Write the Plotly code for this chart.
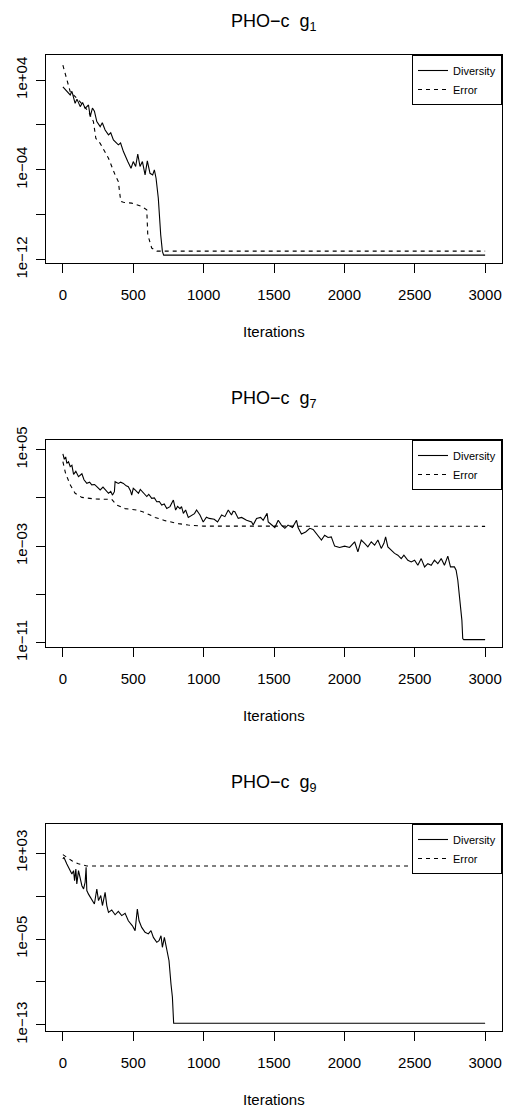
import plotly.graph_objects as go

# ---------------- data ----------------
x_ticks = [0, 500, 1000, 1500, 2000, 2500, 3000]

# panel g1
g1_div_iter = [0, 28, 52, 64, 87, 100, 123, 140, 158, 182, 194, 210, 224, 241, 265, 280, 300,
               324, 340, 359, 394, 410, 430, 461, 484, 500, 517, 532, 548, 565, 584, 600, 619,
               638, 650, 662, 678, 695, 707, 716, 3000]
g1_div = [2.5e3, 9.1e2, 4.7e2, 1.0e3, 8.5e1, 2.0e2, 4.3e1, 1.0e2, 3.0e1, 6.0e1, 5.5e0, 3.2e1,
          1.7e1, 2.0e0, 7.1e-1, 1.6e0, 3.6e-1, 1.3e-1, 2.0e-1, 4.7e-2, 1.7e-2, 2.5e-2, 4.3e-3,
          5.5e-4, 1.4e-4, 5.5e-4, 2.0e-4, 2.6e-3, 2.0e-4, 5.5e-4, 3.6e-5, 6.3e-4, 5.0e-5,
          3.6e-5, 1.0e-4, 1.8e-5, 3.0e-7, 1.7e-10, 5.5e-12, 2.6e-12, 2.6e-12]
g1_err_iter = [0, 28, 52, 111, 182, 217, 234, 265, 324, 371, 394, 411, 430, 489, 560, 596,
               603, 631, 667, 3000]
g1_err = [2.1e5, 1.4e4, 9.1e2, 1.7e2, 1.6e1, 2.0e0, 6.5e-2, 2.3e-2, 1.1e-3, 3.6e-5, 9.1e-6,
          1.6e-7, 1.3e-7, 1.1e-7, 5.5e-8, 2.8e-8, 1.7e-10, 1.1e-11, 5.9e-12, 5.9e-12]

# panel g7
g7_div_iter = [0, 10, 20, 28, 40, 52, 64, 76, 92, 111, 135, 150, 170, 190, 205, 225, 241, 265,
               285, 300, 324, 340, 352, 366, 371, 394, 410, 430, 450, 465, 480, 489, 500, 513,
               537, 550, 565, 580, 596, 610, 631, 650, 667, 685, 702, 720, 738, 761, 785, 801,
               815, 832, 843, 856, 872, 891, 914, 935, 950, 974, 997, 1020, 1040, 1075, 1099,
               1128, 1151, 1175, 1198, 1210, 1222, 1246, 1270, 1305, 1341, 1352, 1376, 1405,
               1423, 1451, 1459, 1482, 1506, 1530, 1553, 1577, 1600, 1631, 1660, 1671, 1695,
               1725, 1754, 1778, 1813, 1837, 1860, 1884, 1907, 1931, 1966, 2002, 2037, 2073,
               2096, 2120, 2144, 2167, 2191, 2215, 2238, 2262, 2281, 2293, 2309, 2333, 2357,
               2380, 2404, 2423, 2451, 2475, 2499, 2522, 2546, 2570, 2593, 2617, 2640, 2664,
               2688, 2711, 2735, 2754, 2782, 2794, 2806, 2818, 2825, 2835, 2841, 2848, 3000]
g7_div = [4.4e4, 1.6e4, 2.5e4, 7.4e3, 1.0e4, 3.9e3, 5.0e3, 8.9e2, 1.6e3, 5.8e2, 1.0e3, 3.2e2,
          1.6e2, 2.0e2, 1.2e2, 1.3e2, 8.5e1, 4.6e1, 7.9e1, 5.0e1, 2.4e1, 3.5e1, 1.7e1, 3.3e1,
          2.2e2, 1.6e2, 2.0e2, 1.6e2, 1.0e2, 8.5e1, 4.0e1, 1.7e1, 6.3e1, 4.6e1, 2.4e1, 5.0e1,
          3.3e1, 2.0e1, 1.3e1, 2.0e1, 9.1e0, 1.0e1, 4.8e0, 5.0e0, 2.6e0, 3.2e0, 1.3e0, 1.9e0,
          6.6e0, 9.8e-1, 2.0e0, 1.3e0, 1.9e0, 5.2e-1, 1.0e0, 2.4e-1, 3.8e-1, 5.0e-1, 1.0e0,
          3.8e-1, 1.0e-1, 2.5e-1, 2.0e-1, 1.7e-1, 1.0e-1, 3.8e-1, 2.8e-1, 1.0e0, 3.8e-1,
          7.9e-1, 7.2e-1, 2.0e-1, 2.4e-1, 1.4e-1, 1.0e-1, 5.6e-2, 2.0e-1, 2.4e-1, 1.4e-1,
          5.2e-1, 1.0e-1, 5.6e-2, 3.5e-2, 1.4e-1, 5.6e-2, 3.0e-2, 5.6e-2, 3.5e-2, 1.4e-1,
          3.5e-2, 1.0e-2, 1.5e-2, 3.0e-2, 2.4e-2, 8.1e-3, 3.2e-3, 8.1e-3, 5.2e-3, 5.9e-3,
          1.0e-3, 7.8e-4, 1.0e-3, 7.8e-4, 2.3e-3, 3.4e-4, 3.2e-3, 1.7e-3, 8.7e-4, 2.3e-3,
          1.2e-3, 3.2e-3, 6.5e-4, 1.7e-3, 5.9e-3, 8.7e-4, 4.7e-4, 2.5e-4, 1.8e-4, 9.3e-5,
          1.8e-4, 6.8e-5, 4.9e-5, 6.8e-5, 2.6e-5, 9.3e-5, 1.9e-5, 3.5e-5, 2.6e-5, 6.8e-5,
          3.5e-5, 9.3e-5, 2.6e-5, 1.5e-4, 1.9e-5, 1.9e-5, 1.0e-5, 1.5e-6, 6.3e-8, 9.3e-9,
          7.1e-10, 2.2e-11, 1.8e-11, 1.8e-11]
g7_err_iter = [0, 19, 52, 87, 135, 229, 347, 382, 442, 525, 584, 655, 726, 820, 891, 997, 3000]
g7_err = [1.0e4, 1.1e3, 1.2e2, 2.4e1, 1.1e1, 8.1e0, 7.6e0, 2.6e0, 1.3e0, 1.0e0, 6.0e-1,
          2.4e-1, 1.3e-1, 7.4e-2, 5.6e-2, 4.6e-2, 4.4e-2]

# panel g9
g9_div_iter = [0, 7, 28, 52, 64, 76, 83, 92, 99, 111, 123, 135, 147, 158, 165, 170, 182, 205,
               224, 241, 253, 269, 281, 300, 312, 324, 347, 371, 394, 418, 442, 465, 494, 513,
               529, 541, 560, 584, 607, 626, 643, 667, 683, 697, 707, 721, 738, 754, 768, 778,
               787, 3000]
g9_div = [2.8e2, 4.0e2, 9.5e1, 2.3e1, 1.1e1, 2.3e1, 2.6e0, 3.2e1, 1.3e0, 2.3e1, 5.5e0, 9.1e-1,
          4.5e-1, 1.9e0, 4.7e1, 3.2e-1, 1.5e-1, 5.2e-2, 1.8e-2, 4.5e-1, 3.7e-2, 1.1e-1, 1.3e-2,
          2.2e-1, 1.3e-2, 3.0e-3, 5.0e-3, 1.8e-3, 3.7e-3, 1.5e-3, 2.5e-3, 5.0e-4, 1.7e-4,
          6.0e-5, 6.2e-3, 5.0e-4, 1.2e-4, 4.2e-5, 3.0e-5, 6.0e-5, 1.4e-5, 4.9e-6, 7.1e-6,
          2.0e-5, 1.7e-6, 1.45e-5, 8.1e-7, 9.5e-8, 6.5e-10, 4.0e-11, 1.45e-13, 1.45e-13]
g9_err_iter = [0, 30, 64, 110, 170, 3000]
g9_err = [7.1e2, 3.5e2, 1.9e2, 1.0e2, 6.2e1, 6.2e1]

panel_titles = ["PHO\u2212c  g<sub>1</sub>", "PHO\u2212c  g<sub>7</sub>", "PHO\u2212c  g<sub>9</sub>"]
y_major_vals = [[1e4, 1e-4, 1e-12], [1e5, 1e-3, 1e-11], [1e3, 1e-5, 1e-13]]
y_major_text = [["1e+04", "1e\u221204", "1e\u221212"],
                ["1e+05", "1e\u221203", "1e\u221211"],
                ["1e+03", "1e\u221205", "1e\u221213"]]
y_minor_vals = [[1e0, 1e-8], [1e1, 1e-7], [1e-1, 1e-9]]
series_names = ["Diversity", "Error"]
x_label = "Iterations"

# ---------------- layout geometry (pixels) ----------------
W, H = 505, 1108
FONT = "Liberation Sans, Arial, Helvetica, sans-serif"
left_px, right_px = 46, 502
tops = [55, 440, 824]
bottoms = [263, 647, 1031]
title_y = [23, 399, 783]
ylog_ranges = [[-12.29, 6.23], [-11.36, 5.80], [-13.56, 5.70]]

def fy(p):
    return 1 - p / H

data = [
    (g1_div_iter, g1_div, g1_err_iter, g1_err),
    (g7_div_iter, g7_div, g7_err_iter, g7_err),
    (g9_div_iter, g9_div, g9_err_iter, g9_err),
]

fig = go.Figure()
annotations = []
for i, (dx, dy, ex, ey) in enumerate(data):
    n = i + 1
    xa = "x" if n == 1 else f"x{n}"
    ya = "y" if n == 1 else f"y{n}"
    lg = "legend" if n == 1 else f"legend{n}"
    fig.add_trace(go.Scatter(x=dx, y=dy, mode="lines", name=series_names[0],
                             line=dict(color="black", width=1.1),
                             xaxis=xa, yaxis=ya, legend=lg))
    fig.add_trace(go.Scatter(x=ex, y=ey, mode="lines", name=series_names[1],
                             line=dict(color="black", width=1.1, dash="4px,4px"),
                             xaxis=xa, yaxis=ya, legend=lg))
    axis_common = dict(showline=True, mirror=True, linecolor="black", linewidth=1,
                       ticks="outside", ticklen=9, tickcolor="black", tickwidth=1,
                       showgrid=False, zeroline=False, automargin=False,
                       tickfont=dict(family=FONT, size=15, color="black"))
    xkey = "xaxis" if n == 1 else f"xaxis{n}"
    ykey = "yaxis" if n == 1 else f"yaxis{n}"
    fig.layout[xkey] = dict(domain=[left_px / W, right_px / W], range=[-120, 3120],
                            anchor=ya, tickmode="array", tickvals=x_ticks,
                            ticktext=[str(v) for v in x_ticks],
                            ticklabelstandoff=9, **axis_common)
    fig.layout[ykey] = dict(domain=[fy(bottoms[i]), fy(tops[i])], type="log",
                            range=ylog_ranges[i], anchor=xa, tickmode="array",
                            tickvals=y_major_vals[i], ticktext=y_major_text[i],
                            minor=dict(tickmode="array", tickvals=y_minor_vals[i],
                                       ticks="outside", ticklen=9, tickcolor="black",
                                       tickwidth=1, showgrid=False),
                            tickangle=-90, ticklabelstandoff=3, **axis_common)
    fig.layout[lg] = dict(x=right_px / W, y=fy(tops[i]), xanchor="right", yanchor="top",
                          bgcolor="white", bordercolor="black", borderwidth=1,
                          font=dict(family=FONT, size=11, color="black"),
                          tracegroupgap=0, itemwidth=30)
    annotations.append(dict(text=panel_titles[i], x=(left_px + right_px) / 2 / W,
                            y=fy(title_y[i]), xref="paper", yref="paper",
                            xanchor="center", yanchor="middle", showarrow=False,
                            font=dict(family=FONT, size=18, color="black")))
    annotations.append(dict(text=x_label, x=(left_px + right_px) / 2 / W,
                            y=fy(bottoms[i] + 68), xref="paper", yref="paper",
                            xanchor="center", yanchor="middle", showarrow=False,
                            font=dict(family=FONT, size=15, color="black")))

fig.update_layout(width=W, height=H, margin=dict(l=0, r=0, t=0, b=0, pad=0),
                  paper_bgcolor="white", plot_bgcolor="white",
                  font=dict(family=FONT, color="black"),
                  annotations=annotations, showlegend=True)

fig.write_html("out.html", config={"displayModeBar": False},
               post_script="document.body.style.margin='0';document.body.style.overflow='hidden';")
